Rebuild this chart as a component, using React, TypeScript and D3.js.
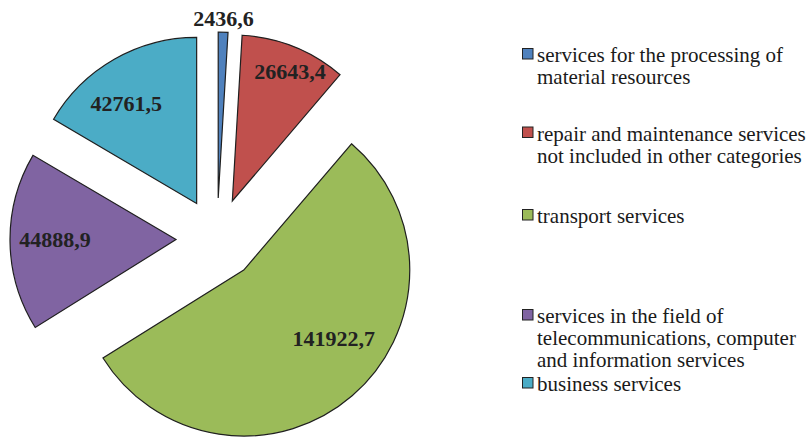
import React from "react";
import * as d3 from "d3";

const categories = [
  "services for the processing of material resources",
  "repair and maintenance services not included in other categories",
  "transport services",
  "services in the field of telecommunications, computer and information services",
  "business services",
];
const values = [2436.6, 26643.4, 141922.7, 44888.9, 42761.5];
const valueLabels = ["2436,6", "26643,4", "141922,7", "44888,9", "42761,5"];
const legendLines = [
  ["services for the processing of", "material resources"],
  ["repair and maintenance services", "not included in other categories"],
  ["transport services"],
  ["services in the field of", "telecommunications, computer", "and information services"],
  ["business services"],
];
const colors = ["#4F81BD", "#C0504D", "#9BBB59", "#8064A2", "#4BACC6"];

// layout config
const W = 809;
const H = 439;
const CX = 217;
const CY = 239;
const R = 166;
const EXPLODE = 41;
const labelPlace = [
  { r: 180, da: 0 },
  { r: 142, da: 2 },
  { r: 113, da: -12 },
  { r: 121, da: 1 },
  { r: 122, da: -5.5 },
];
const legendBaselines = [62, 140.5, 223, 323, 391];
const legendLineH = 22;

export default function App() {
  const pie = d3.pie<number>().sort(null).startAngle(0).endAngle(2 * Math.PI);
  const arcs = pie(values);
  const arc = d3.arc<d3.PieArcDatum<number>>().innerRadius(0).outerRadius(R);

  return (
    <svg
      width={W}
      height={H}
      style={{ position: "absolute", left: 0, top: 0, background: "#fff" }}
      fontFamily="'Liberation Serif', 'Times New Roman', serif"
    >
      {arcs.map((a, i) => {
        const mid = (a.startAngle + a.endAngle) / 2;
        const ox = CX + EXPLODE * Math.sin(mid);
        const oy = CY - EXPLODE * Math.cos(mid);
        const la = mid + (labelPlace[i].da * Math.PI) / 180;
        const lx = ox + labelPlace[i].r * Math.sin(la);
        const ly = oy - labelPlace[i].r * Math.cos(la);
        return (
          <g key={i}>
            <path
              d={arc(a) || ""}
              transform={`translate(${ox},${oy})`}
              fill={colors[i]}
              stroke="#1f1f1f"
              strokeWidth={1.2}
              strokeLinejoin="miter"
            />
            <text
              x={lx}
              y={ly}
              dy="0.34em"
              textAnchor="middle"
              fontSize={22}
              fontWeight="bold"
              fill="#222"
            >
              {valueLabels[i]}
            </text>
          </g>
        );
      })}
      {categories.map((c, i) => (
        <g key={c}>
          <rect
            x={522.5}
            y={legendBaselines[i] - 13.5}
            width={10.5}
            height={10.5}
            fill={colors[i]}
            stroke="#222"
            strokeWidth={1}
          />
          <text fontSize={21} fill="#1a1a1a">
            {legendLines[i].map((line, j) => (
              <tspan key={j} x={537} y={legendBaselines[i] + j * legendLineH}>
                {line}
              </tspan>
            ))}
          </text>
        </g>
      ))}
    </svg>
  );
}
